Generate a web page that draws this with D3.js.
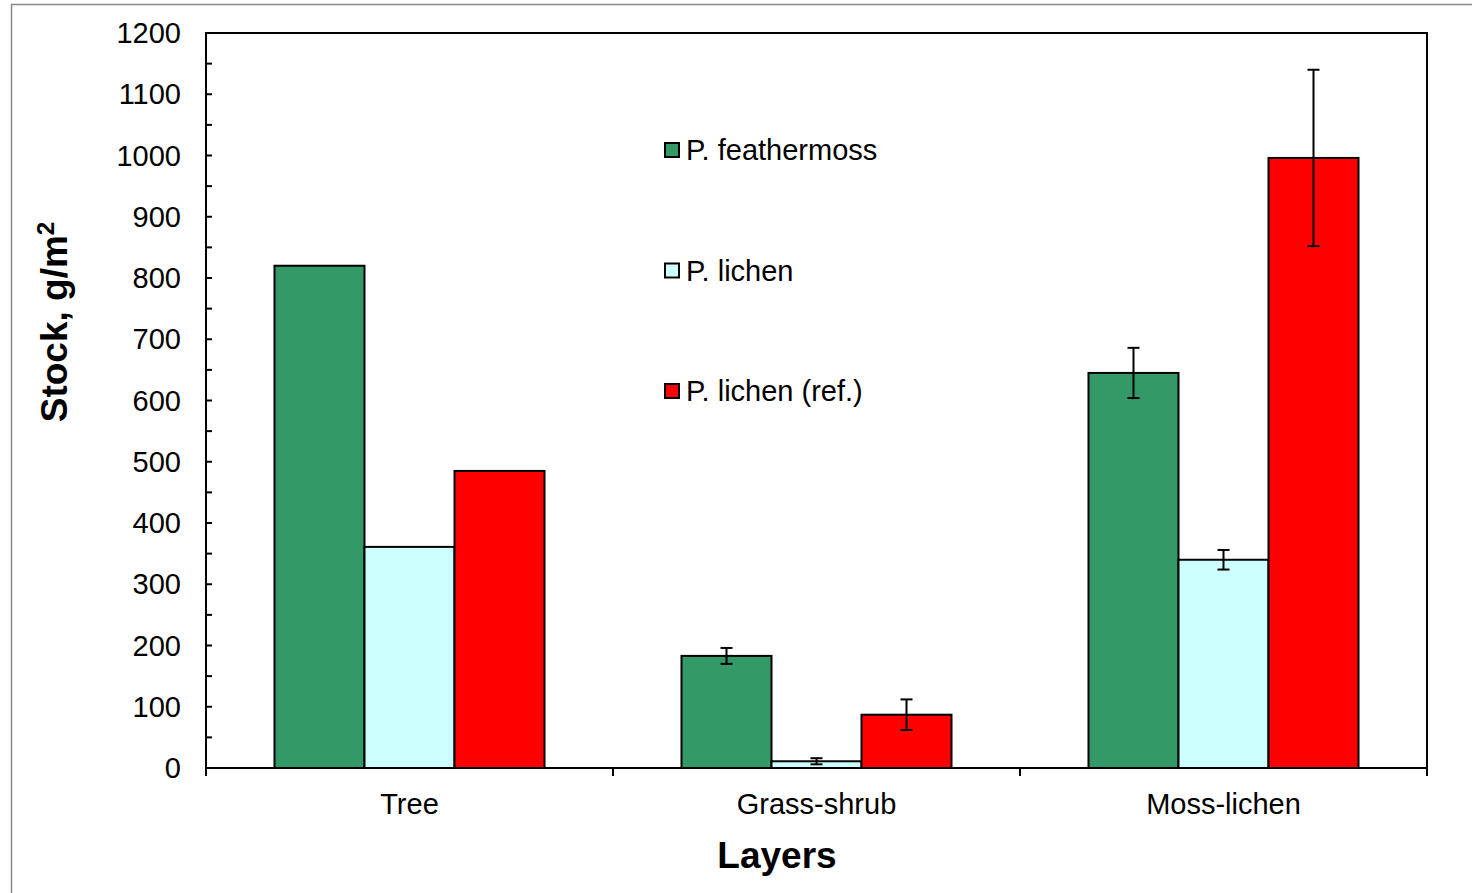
<!DOCTYPE html>
<html lang="en">
<head>
    <meta charset="UTF-8">
    <title>Stock by layer</title>
    <script src="https://d3js.org/d3.v7.min.js"></script>
    <style>
        body { margin: 0; background: #fff; }
        svg { display: block; font-family: "Liberation Sans", Arial, sans-serif; }
        .tick-label { font-size: 29px; fill: #000; }
        .legend-text { font-size: 29px; }
        .axis-title { font-weight: bold; font-size: 37px; }
    </style>
</head>
<body>
<svg id="chart" width="1472" height="893"></svg>
<script>
    // data
    const layers = ["Tree", "Grass-shrub", "Moss-lichen"];
    const seriesNames = ["P. feathermoss", "P. lichen", "P. lichen (ref.)"];
    const seriesColors = ["#339966", "#ccffff", "#ff0000"];
    const feathermoss = [820, 183, 645];
    const feathermossErr = [null, 13, 41];
    const lichen = [361, 11, 340];
    const lichenErr = [null, 5, 16];
    const lichenRef = [485, 87, 996];
    const lichenRefErr = [null, 25, 144];
    const yTicks = d3.range(0, 1201, 100);

    const values = [feathermoss, lichen, lichenRef];
    const errors = [feathermossErr, lichenErr, lichenRefErr];

    const plot = {left: 206, right: 1427, top: 33, bottom: 768};

    const svg = d3.select("#chart");

    // thin outer frame of the original figure
    svg.append("rect")
        .attr("x", 11.5).attr("y", 4.5)
        .attr("width", 1500).attr("height", 950)
        .attr("fill", "none").attr("stroke", "#888").attr("stroke-width", 1.5);

    const y = d3.scaleLinear().domain([0, 1200]).range([plot.bottom, plot.top]);
    const x0 = d3.scaleBand().domain(layers).range([plot.left, plot.right]).padding(0);
    const x1 = d3.scaleBand().domain(seriesNames).range([0, x0.bandwidth()])
        .paddingInner(0).paddingOuter(0.761);

    // bars
    const groups = svg.append("g").selectAll("g")
        .data(layers)
        .join("g")
        .attr("transform", d => `translate(${x0(d)},0)`);

    groups.selectAll("rect")
        .data((d, i) => seriesNames.map((s, j) => ({s, j, v: values[j][i], e: errors[j][i]})))
        .join("rect")
        .attr("x", d => x1(d.s))
        .attr("y", d => y(d.v))
        .attr("width", x1.bandwidth())
        .attr("height", d => y(0) - y(d.v))
        .attr("fill", d => seriesColors[d.j])
        .attr("stroke", "#000")
        .attr("stroke-width", 2);

    // error bars
    const eb = groups.selectAll("g.err")
        .data((d, i) => seriesNames.map((s, j) => ({s, v: values[j][i], e: errors[j][i]})).filter(d => d.e != null))
        .join("g")
        .attr("class", "err")
        .attr("transform", d => `translate(${x1(d.s) + x1.bandwidth() / 2},0)`)
        .attr("stroke", "#000")
        .attr("stroke-width", 2);
    eb.append("line").attr("x1", 0).attr("x2", 0)
        .attr("y1", d => y(d.v + d.e)).attr("y2", d => y(d.v - d.e));
    eb.append("line").attr("x1", -6).attr("x2", 6)
        .attr("y1", d => y(d.v + d.e)).attr("y2", d => y(d.v + d.e));
    eb.append("line").attr("x1", -6).attr("x2", 6)
        .attr("y1", d => y(d.v - d.e)).attr("y2", d => y(d.v - d.e));

    // plot frame
    svg.append("rect")
        .attr("x", plot.left).attr("y", plot.top)
        .attr("width", plot.right - plot.left).attr("height", plot.bottom - plot.top)
        .attr("fill", "none").attr("stroke", "#000").attr("stroke-width", 2);

    // y axis: ticks point inward, minor ticks every 50
    const yAxis = svg.append("g");
    yAxis.selectAll("line.minor")
        .data(d3.range(0, 1201, 50))
        .join("line")
        .attr("x1", plot.left).attr("x2", plot.left + 6)
        .attr("y1", d => y(d)).attr("y2", d => y(d))
        .attr("stroke", "#000").attr("stroke-width", 2);
    yAxis.selectAll("text")
        .data(yTicks)
        .join("text")
        .attr("class", "tick-label")
        .attr("x", 181)
        .attr("y", d => y(d))
        .attr("dy", "0.35em")
        .attr("text-anchor", "end")
        .text(d => d);

    // x axis: ticks at category boundaries, pointing down
    const bounds = layers.map(d => x0(d)).concat([x0.range()[1]]);
    svg.append("g").selectAll("line")
        .data(bounds)
        .join("line")
        .attr("x1", d => d).attr("x2", d => d)
        .attr("y1", plot.bottom).attr("y2", plot.bottom + 8)
        .attr("stroke", "#000").attr("stroke-width", 2);
    svg.append("g").selectAll("text")
        .data(layers)
        .join("text")
        .attr("class", "tick-label")
        .attr("x", d => x0(d) + x0.bandwidth() / 2)
        .attr("y", 814)
        .attr("text-anchor", "middle")
        .text(d => d);

    // axis titles
    svg.append("text")
        .attr("class", "axis-title")
        .attr("x", 777).attr("y", 868)
        .attr("text-anchor", "middle")
        .text("Layers");
    const yTitle = svg.append("text")
        .attr("class", "axis-title")
        .attr("transform", "translate(67,322) rotate(-90)")
        .attr("text-anchor", "middle");
    yTitle.append("tspan").text("Stock, g/m");
    yTitle.append("tspan").attr("font-size", "0.65em").attr("dy", "-0.55em").text("2");

    // legend
    const legend = svg.append("g").selectAll("g")
        .data(seriesNames)
        .join("g")
        .attr("transform", (d, i) => `translate(665,${150 + i * 120.5})`);
    legend.append("rect")
        .attr("x", 0).attr("y", -7).attr("width", 14).attr("height", 14)
        .attr("fill", (d, i) => seriesColors[i])
        .attr("stroke", "#000").attr("stroke-width", 2);
    legend.append("text")
        .attr("class", "legend-text")
        .attr("x", 21).attr("dy", "0.35em")
        .text(d => d);
</script>
</body>
</html>
